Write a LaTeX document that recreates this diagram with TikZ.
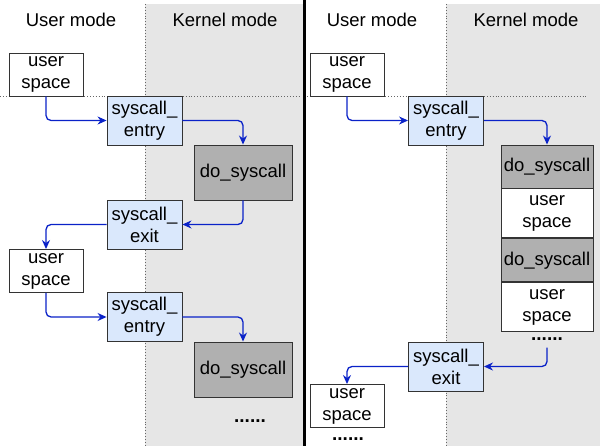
\documentclass[tikz,border=0pt]{standalone}
\usepackage{fontspec}
\setmainfont{Liberation Sans}
\usetikzlibrary{arrows.meta}
\definecolor{kgray}{HTML}{E6E6E6}
\definecolor{dogray}{HTML}{B0B0B0}
\definecolor{entryblue}{HTML}{DAE8FC}
\definecolor{arrblue}{HTML}{0A22C8}
\begin{document}
\begin{tikzpicture}[x=1pt,y=-1pt,
  box/.style={draw=black!80,line width=0.9pt,align=center,inner sep=0pt,font=\fontsize{18.5}{22}\selectfont},
  usbox/.style={box,fill=white,minimum width=74pt,minimum height=43pt},
  callbox/.style={box,fill=entryblue,minimum width=75pt,minimum height=49pt},
  dobox/.style={box,fill=dogray,minimum width=98pt,minimum height=55pt},
  lbl/.style={font=\fontsize{18.5}{22}\selectfont},
  dots/.style={inner sep=0pt,anchor=base,font=\fontsize{19}{22}\selectfont\bfseries},
  arr/.style={draw=arrblue,line width=1.3pt,rounded corners=5pt,-{Stealth[length=9pt,width=8pt]}}]
\useasboundingbox (0,0) rectangle (600,446);
% kernel side backgrounds
\fill[kgray] (145,4) rectangle (303,446);
\fill[kgray] (446,4) rectangle (600,446);
\draw[black!60,dotted,line width=0.9pt] (145,4) -- (145,446);
\draw[black!60,dotted,line width=0.9pt] (446,4) -- (446,446);
\draw[black!60,dotted,line width=0.9pt] (0,96) -- (300,96);
\draw[black!60,dotted,line width=0.9pt] (307,96) -- (587,96);
\draw[line width=3pt] (304.5,0) -- (304.5,446);
\node[lbl] (um1) at (71,20) {User mode};
\node[lbl] (km1) at (225,20) {Kernel mode};
\node[lbl] (um2) at (372,20) {User mode};
\node[lbl] (km2) at (526,20) {Kernel mode};
% left: one call after another
\node[usbox] (us1) at (46,74.5) {user\\space};
\node[callbox] (en1) at (144.5,120.5) {syscall\_\\entry};
\node[dobox] (do1) at (243,172.5) {do\_syscall};
\node[callbox] (ex1) at (144.5,224.5) {syscall\_\\exit};
\node[usbox] (us2) at (46,271) {user\\space};
\node[callbox] (en2) at (144.5,317) {syscall\_\\entry};
\node[dobox] (do2) at (243,369.5) {do\_syscall};
\node[dots] (dt1) at (250,422.5) {......};
\draw[arr] (us1.south) |- (en1.west);
\draw[arr] (en1.east) -| (do1.north);
\draw[arr] (do1.south) |- (ex1.east);
\draw[arr] (ex1.west) -| (us2.north);
\draw[arr] (us2.south) |- (en2.west);
\draw[arr] (en2.east) -| (do2.north);
% right: work stays in the kernel
\node[usbox] (us3) at (347,74.5) {user\\space};
\node[callbox] (en3) at (446,120.5) {syscall\_\\entry};
\node[box,fill=dogray,minimum width=92pt,minimum height=43pt] (ds1) at (547,166.5) {do\_syscall};
\node[box,fill=white,minimum width=92pt,minimum height=49pt,anchor=north] (ks1) at (ds1.south) {user\\space};
\node[box,fill=dogray,minimum width=92pt,minimum height=43pt,anchor=north] (ds2) at (ks1.south) {do\_syscall};
\node[box,fill=white,minimum width=92pt,minimum height=49pt,anchor=north] (ks2) at (ds2.south) {user\\space};
\node[dots] (dt2) at (547,340.5) {......};
\node[callbox] (ex3) at (446,366.5) {syscall\_\\exit};
\node[usbox] (us4) at (347,406) {user\\space};
\node[dots] (dt3) at (348,440.5) {......};
\draw[arr] (us3.south) |- (en3.west);
\draw[arr] ([yshift=-7pt]dt2.south) |- (ex3.east);
\draw[arr] (en3.east) -| (ds1.north);
\draw[arr] (ex3.west) -| (us4.north);
\end{tikzpicture}
\end{document}
